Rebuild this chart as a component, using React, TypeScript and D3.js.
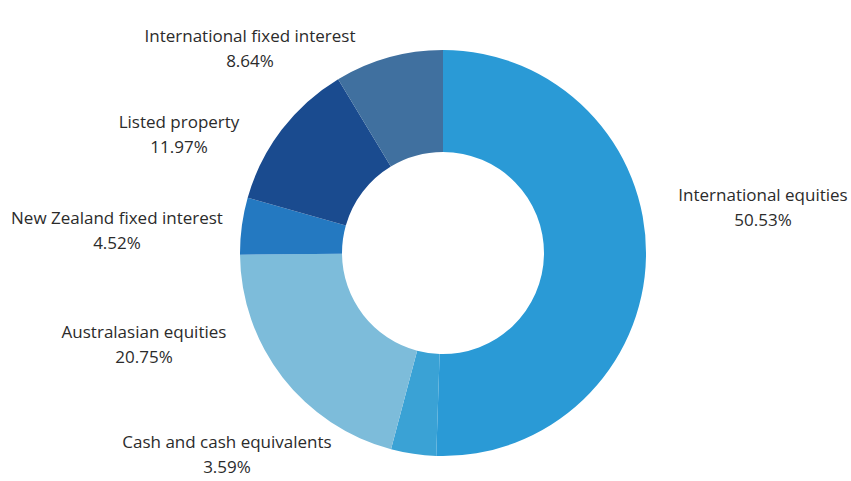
import React from "react";
import * as d3 from "d3";

const categories = [
  "International equities",
  "Cash and cash equivalents",
  "Australasian equities",
  "New Zealand fixed interest",
  "Listed property",
  "International fixed interest",
];
const values = [50.53, 3.59, 20.75, 4.52, 11.97, 8.64];
const colors = ["#2a9ad6", "#3aa2d5", "#7dbcda", "#2479c1", "#1a4b8f", "#40709f"];

// label anchor positions (layout)
const labelPos: [number, number][] = [
  [763, 195],
  [227, 442],
  [144, 332],
  [117, 218],
  [179, 122],
  [250, 36],
];

const W = 851;
const H = 481;
const cx = 443;
const cy = 253;
const outerR = 203;
const innerR = 101;

export default function App() {
  const pie = d3.pie<number>().sort(null).value((d) => d);
  const arcs = pie(values);
  const arc = d3.arc<d3.PieArcDatum<number>>().innerRadius(innerR).outerRadius(outerR);
  return (
    <svg
      width={W}
      height={H}
      style={{ position: "absolute", left: 0, top: 0, background: "#fff" }}
      fontFamily="'Open Sans', Lato, sans-serif"
    >
      <g transform={`translate(${cx},${cy})`}>
        {arcs.map((a, i) => (
          <path key={i} d={arc(a) || ""} fill={colors[i]} />
        ))}
      </g>
      {categories.map((c, i) => (
        <text
          key={c}
          x={labelPos[i][0]}
          y={labelPos[i][1]}
          textAnchor="middle"
          fontSize={17}
          fill="#2b2b2b"
        >
          <tspan x={labelPos[i][0]} dy="0.35em">{c}</tspan>
          <tspan x={labelPos[i][0]} dy="1.47em">{values[i].toFixed(2)}%</tspan>
        </text>
      ))}
    </svg>
  );
}
